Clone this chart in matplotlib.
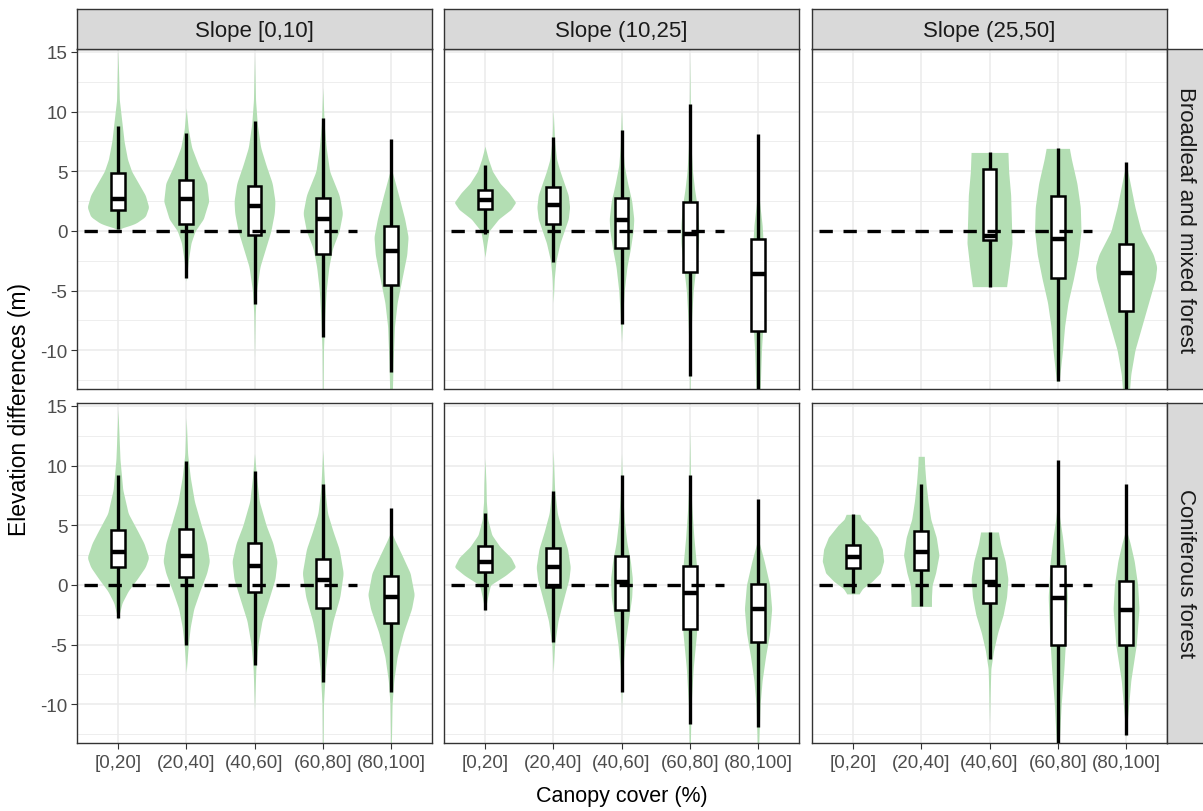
import numpy as np
import matplotlib.pyplot as plt
from matplotlib.patches import Rectangle

plt.rcParams['font.family'] = ['Liberation Sans', 'DejaVu Sans']

cover = ["[0,20]", "(20,40]", "(40,60]", "(60,80]", "(80,100]"]
slopes = ["Slope [0,10]", "Slope (10,25]", "Slope (25,50]"]
forests = ["Broadleaf and mixed forest", "Coniferous forest"]

# boxplot summaries: (lower whisker, q1, median, q3, upper whisker)
box_broad_s1 = [(0.19, 1.78, 2.69, 4.86, 8.8), (-3.97, 0.56, 2.69, 4.28, 8.25),
                (-6.1, -0.36, 2.08, 3.8, 9.2), (-8.9, -1.97, 0.97, 2.75, 9.5),
                (-11.8, -4.53, -1.67, 0.39, 7.7)]
box_broad_s2 = [(-0.28, 1.86, 2.61, 3.47, 5.56), (-2.58, 0.56, 2.19, 3.72, 7.9),
                (-7.8, -1.47, 0.94, 2.78, 8.47), (-12.2, -3.47, -0.22, 2.42, 10.67),
                (-13.4, -8.42, -3.61, -0.64, 8.1)]
box_broad_s3 = [None, None,
                (-4.67, -0.78, -0.42, 5.19, 6.58), (-12.6, -3.92, -0.69, 2.92, 6.92),
                (-13.4, -6.69, -3.56, -1.06, 5.75)]
box_conif_s1 = [(-2.78, 1.47, 2.78, 4.61, 9.25), (-5.0, 0.69, 2.44, 4.72, 10.36),
                (-6.72, -0.61, 1.61, 3.5, 9.53), (-8.17, -1.94, 0.42, 2.17, 8.42),
                (-9.0, -3.19, -1.03, 0.72, 6.47)]
box_conif_s2 = [(-2.06, 1.06, 1.89, 3.28, 6.06), (-4.78, -0.19, 1.47, 3.06, 7.86),
                (-8.94, -2.14, 0.22, 2.44, 9.25), (-11.67, -3.72, -0.69, 1.61, 9.25),
                (-11.9, -4.78, -2.0, 0.08, 7.17)]
box_conif_s3 = [(-0.67, 1.44, 2.36, 3.33, 5.92), (-1.78, 1.25, 2.72, 4.53, 8.42),
                (-6.22, -1.53, 0.22, 2.22, 4.44), (-13.4, -5.0, -1.11, 1.61, 10.5),
                (-12.56, -5.06, -2.08, 0.36, 8.42)]

# violin outlines: elevation knots and half widths (in category units)
violin_broad_s1 = [
    ([0.15, 0.6, 1.2, 2.0, 3.0, 4.0, 5.0, 6.0, 7.5, 9.5, 11, 15.2],
     [0, 0.25, 0.40, 0.45, 0.40, 0.30, 0.20, 0.14, 0.09, 0.05, 0.02, 0.0]),
    ([-4.2, -2.5, -1, 0, 1, 2.5, 4, 5.5, 7, 8.5, 10.3],
     [0, 0.03, 0.07, 0.13, 0.25, 0.33, 0.30, 0.18, 0.08, 0.03, 0]),
    ([-10.5, -7, -5, -3, -1.5, 0, 1.5, 2.5, 4, 5.5, 7, 9, 11, 14.7],
     [0, 0.01, 0.03, 0.08, 0.16, 0.24, 0.29, 0.30, 0.26, 0.17, 0.09, 0.04, 0.015, 0]),
    ([-13.4, -10, -7, -5, -3, -1.5, 0, 1.5, 3, 5, 7, 9, 12],
     [0.005, 0.01, 0.03, 0.05, 0.09, 0.14, 0.24, 0.29, 0.24, 0.10, 0.05, 0.02, 0]),
    ([-13.4, -11, -8, -6, -4, -2, -0.5, 1, 3, 4.5, 5.3],
     [0.02, 0.03, 0.05, 0.09, 0.16, 0.23, 0.25, 0.20, 0.11, 0.04, 0]),
]
violin_broad_s2 = [
    ([-2.2, -1, 0, 1, 1.8, 2.4, 3.2, 4, 5, 6, 7.1],
     [0, 0.03, 0.06, 0.20, 0.38, 0.45, 0.35, 0.22, 0.11, 0.05, 0]),
    ([-6, -4, -2.5, -1, 0, 1, 2, 3, 4, 5, 6, 7.5, 10.1],
     [0, 0.015, 0.04, 0.10, 0.16, 0.22, 0.24, 0.22, 0.16, 0.10, 0.05, 0.02, 0]),
    ([-9.3, -7, -5, -3, -1.5, 0, 1, 2.5, 4, 5.5, 7, 10.2],
     [0, 0.02, 0.04, 0.08, 0.13, 0.17, 0.18, 0.15, 0.09, 0.04, 0.02, 0]),
    ([-13.4, -10, -7, -5, -3, -1, 0.5, 2, 3.5, 5, 7, 10, 14.8],
     [0.005, 0.01, 0.03, 0.05, 0.09, 0.13, 0.13, 0.11, 0.07, 0.04, 0.02, 0.008, 0]),
    ([-13.4, -10, -7, -4, -1.5, 0.5, 2, 3.8],
     [0.03, 0.05, 0.08, 0.09, 0.08, 0.06, 0.03, 0]),
]
violin_broad_s3 = [
    None,
    None,
    ([-4.67, -3, -1, 1, 3, 5, 6.58],
     [0.25, 0.29, 0.33, 0.32, 0.31, 0.28, 0.27]),
    ([-12.6, -10, -8, -6, -4, -2, 0, 2, 4, 6, 6.92],
     [0.02, 0.07, 0.10, 0.15, 0.23, 0.30, 0.34, 0.33, 0.28, 0.20, 0.17]),
    ([-13.4, -12, -10, -8, -6, -4, -3, -2, 0, 2, 4, 5.75],
     [0.05, 0.07, 0.13, 0.23, 0.33, 0.43, 0.45, 0.40, 0.22, 0.13, 0.06, 0]),
]
violin_conif_s1 = [
    ([-2.9, -1.5, -0.5, 0.5, 1.5, 2.3, 3.5, 4.5, 6, 8, 10.5, 14.7],
     [0, 0.06, 0.15, 0.28, 0.40, 0.45, 0.38, 0.29, 0.15, 0.07, 0.03, 0]),
    ([-7.3, -5, -3.5, -2, -0.5, 1, 2, 3.5, 5, 7, 9, 11, 14],
     [0, 0.03, 0.06, 0.11, 0.20, 0.30, 0.34, 0.30, 0.22, 0.12, 0.06, 0.02, 0]),
    ([-10.4, -7, -5, -3, -1, 0.5, 2, 3.5, 5, 7, 9, 11],
     [0, 0.02, 0.05, 0.11, 0.22, 0.30, 0.33, 0.27, 0.17, 0.07, 0.03, 0]),
    ([-13.4, -10, -7, -5, -3, -1, 1, 3, 4.5, 6, 8, 11.3],
     [0.005, 0.01, 0.04, 0.08, 0.15, 0.25, 0.30, 0.24, 0.15, 0.07, 0.03, 0]),
    ([-13.4, -10, -8, -6, -4, -2, -0.8, 1, 2.5, 3.7, 4.5],
     [0.005, 0.015, 0.04, 0.09, 0.18, 0.30, 0.34, 0.28, 0.16, 0.06, 0]),
]
violin_conif_s2 = [
    ([-2.2, -1, 0, 0.8, 1.5, 2.3, 3.2, 4.2, 5.5, 7, 8.5, 10.6],
     [0, 0.04, 0.08, 0.30, 0.45, 0.38, 0.22, 0.10, 0.04, 0.02, 0.015, 0]),
    ([-7.3, -5, -3, -1, 0.5, 1.5, 3, 4.5, 6, 8, 11.3],
     [0, 0.02, 0.07, 0.16, 0.23, 0.25, 0.21, 0.13, 0.06, 0.02, 0]),
    ([-10.2, -7, -5, -3, -1, 0.5, 2, 3.5, 5.5, 8, 11],
     [0, 0.02, 0.05, 0.10, 0.15, 0.16, 0.13, 0.08, 0.04, 0.015, 0]),
    ([-13.4, -10, -7, -4, -1, 1.5, 4, 6.5, 9, 13],
     [0.008, 0.02, 0.05, 0.10, 0.12, 0.10, 0.06, 0.03, 0.01, 0]),
    ([-13.4, -10, -8, -6, -4, -2, 0, 2, 3.9],
     [0.01, 0.03, 0.06, 0.11, 0.17, 0.20, 0.17, 0.09, 0]),
]
violin_conif_s3 = [
    ([-0.75, -0.3, 0.3, 1, 2, 3, 4, 5, 5.5, 5.92],
     [0.09, 0.14, 0.28, 0.40, 0.45, 0.43, 0.36, 0.22, 0.13, 0.10]),
    ([-1.8, -1, 0, 1, 2.5, 4, 5.5, 7, 8.5, 10, 10.78],
     [0.15, 0.15, 0.16, 0.21, 0.26, 0.22, 0.14, 0.10, 0.07, 0.05, 0.045]),
    ([-11.6, -9, -7, -5.5, -4, -2.5, -1, 0.5, 2, 3.5, 4.44],
     [0, 0.01, 0.02, 0.06, 0.12, 0.20, 0.25, 0.27, 0.23, 0.16, 0.13]),
    ([-13.4, -10, -7, -4, -1, 2, 4, 5.5, 7.2],
     [0.02, 0.05, 0.09, 0.12, 0.14, 0.11, 0.07, 0.03, 0]),
    ([-12.8, -11, -8, -5, -2, 0, 2, 3.5, 4.7],
     [0, 0.025, 0.07, 0.15, 0.19, 0.17, 0.12, 0.06, 0]),
]

boxes = [[box_broad_s1, box_broad_s2, box_broad_s3],
         [box_conif_s1, box_conif_s2, box_conif_s3]]
violins = [[violin_broad_s1, violin_broad_s2, violin_broad_s3],
           [violin_conif_s1, violin_conif_s2, violin_conif_s3]]

W, H = 1203, 812
fig = plt.figure(figsize=(W / 100, H / 100), dpi=100)


def px_axes(x0, y0, x1, y1):
    return fig.add_axes([x0 / W, 1 - y1 / H, (x1 - x0) / W, (y1 - y0) / H])


def smooth_profile(ys, hws):
    grid = np.linspace(ys[0], ys[-1], 400)
    w = np.interp(grid, ys, hws)
    k = np.ones(9) / 9
    ws = np.convolve(np.pad(w, 4, mode='edge'), k, mode='valid')
    ws[0], ws[-1] = w[0], w[-1]
    return grid, ws


col_x = [(77, 432), (444, 799), (812, 1167)]
row_y = [(50, 390), (404, 744)]
green = '#b3deb3'
edge = '#333333'

for r in range(2):
    for c in range(3):
        ax = px_axes(col_x[c][0], row_y[r][0], col_x[c][1], row_y[r][1])
        ax.set_xlim(0.4, 5.6)
        ax.set_ylim(-13.25, 15.25)
        ax.set_yticks([-10, -5, 0, 5, 10, 15])
        ax.set_yticks([-12.5, -7.5, -2.5, 2.5, 7.5, 12.5], minor=True)
        ax.set_xticks(range(1, 6))
        ax.grid(True, which='major', color='#ebebeb', lw=1.1, zorder=0)
        ax.grid(True, which='minor', axis='y', color='#ebebeb', lw=0.6, zorder=0)
        ax.set_axisbelow(True)
        for s in ax.spines.values():
            s.set_color(edge)
            s.set_linewidth(1.0)
        ax.tick_params(which='minor', length=0)
        ax.tick_params(which='major', length=4, color='#333333', width=0.8,
                       labelsize=13.5, labelcolor='#4d4d4d', pad=3)
        if c == 0:
            ax.set_yticklabels(['-10', '-5', '0', '5', '10', '15'])
        else:
            ax.tick_params(axis='y', length=0, labelleft=False)
        if r == 1:
            ax.set_xticklabels(cover)
            ax.tick_params(axis='x', pad=4)
        else:
            ax.tick_params(axis='x', length=0, labelbottom=False)

        for i in range(5):
            x = i + 1
            v = violins[r][c][i]
            if v is not None:
                gy, gw = smooth_profile(*v)
                ax.fill_betweenx(gy, x - gw, x + gw, color=green, lw=0, zorder=2)
            b = boxes[r][c][i]
            if b is not None:
                lo, q1, med, q3, hi = b
                ax.plot([x, x], [lo, q1], color='black', lw=2.4, zorder=3,
                        solid_capstyle='butt')
                ax.plot([x, x], [q3, hi], color='black', lw=2.4, zorder=3,
                        solid_capstyle='butt')
                ax.add_patch(Rectangle((x - 0.1, q1), 0.2, q3 - q1, facecolor='white',
                                       edgecolor='black', lw=1.8, zorder=4))
                ax.plot([x - 0.1, x + 0.1], [med, med], color='black', lw=3.2,
                        zorder=5, solid_capstyle='butt')
        ax.plot([0.5, 4.5], [0, 0], color='black', lw=2.4, ls=(0, (4, 3.2)), zorder=6)

        # facet strips
        if r == 0:
            sax = px_axes(col_x[c][0], 10, col_x[c][1], 50)
            sax.set_facecolor('#d9d9d9')
            sax.set_xticks([]); sax.set_yticks([])
            for s in sax.spines.values():
                s.set_color(edge)
                s.set_linewidth(1.0)
            sax.text(0.5, 0.47, slopes[c], ha='center', va='center', fontsize=16,
                     color='#1a1a1a', transform=sax.transAxes)
        if c == 2:
            rax = px_axes(1167, row_y[r][0], 1213, row_y[r][1])
            rax.set_facecolor('#d9d9d9')
            rax.set_xticks([]); rax.set_yticks([])
            for s in rax.spines.values():
                s.set_color(edge)
                s.set_linewidth(1.0)
            rax.text(0.5 * 36 / 46 + 0.02, 0.5, forests[r], ha='center', va='center',
                     fontsize=16, color='#1a1a1a', rotation=-90, transform=rax.transAxes)

fig.text(20 / W, 1 - 410 / H, 'Elevation differences (m)', rotation=90,
         ha='center', va='center', fontsize=16.5)
fig.text(622 / W, 1 - 797 / H, 'Canopy cover (%)', ha='center', va='center',
         fontsize=15.5)

fig.savefig('out.png', dpi=100, facecolor='white')
